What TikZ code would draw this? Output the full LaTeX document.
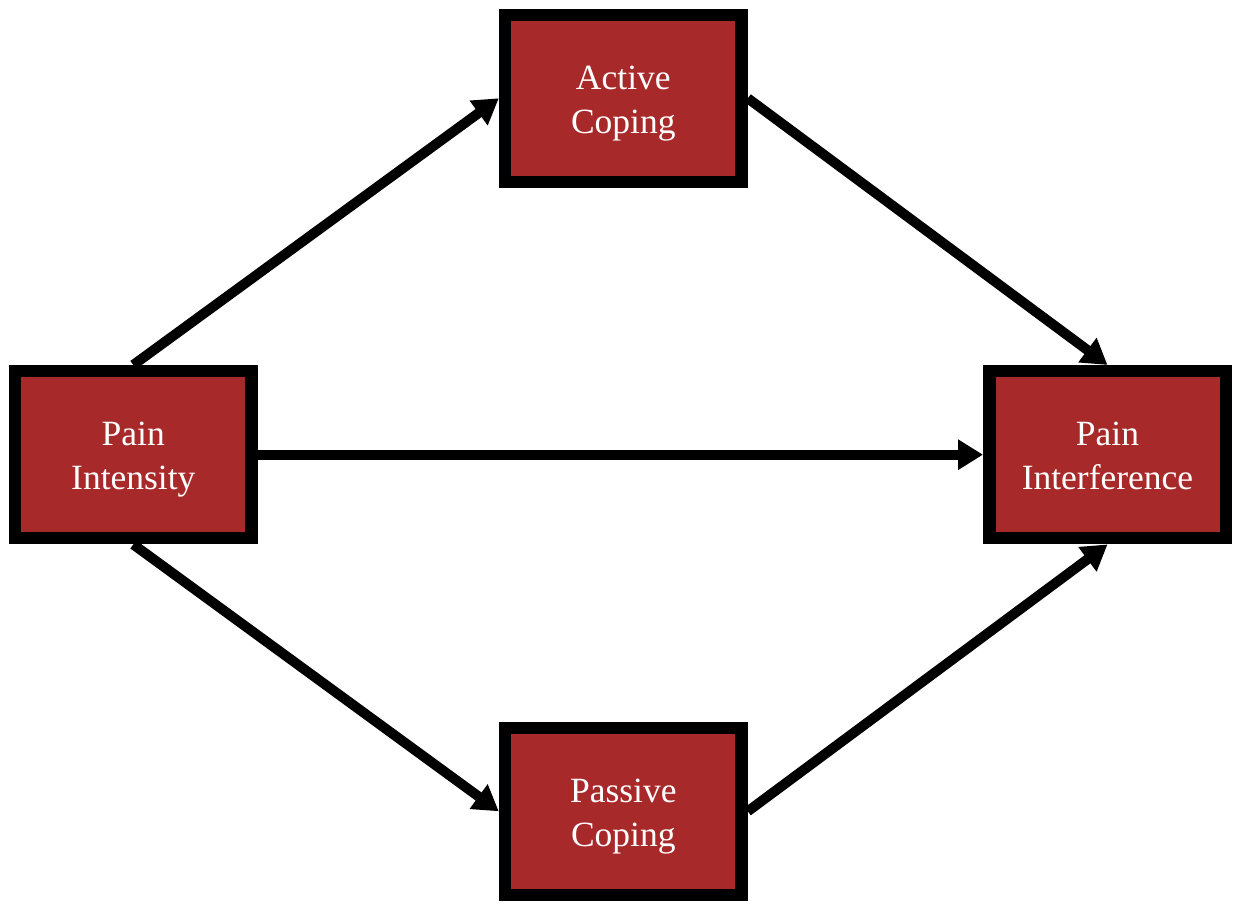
\documentclass[tikz,border=0pt]{standalone}
\usepackage{fontspec}
\setmainfont{Liberation Serif}
\usetikzlibrary{arrows.meta}
\definecolor{boxred}{RGB}{168,41,42}
\begin{document}
\begin{tikzpicture}[x=1pt,y=-1pt,
  varbox/.style={draw=black, fill=boxred, line width=12.5pt,
    minimum width=236.5pt, minimum height=167pt, inner sep=0pt},
  boxtext/.style={text=white, align=center, inner sep=0pt, yshift=-5pt,
    font=\fontsize{35.5pt}{44pt}\selectfont},
  path/.style={line width=10pt, -{Triangle[length=25pt,width=29pt]}}]
  \useasboundingbox (0,0) rectangle (1235,909);
  \node[varbox, label={[boxtext]center:{Active\\Coping}}] (act) at (623.3,98.3) {};
  \node[varbox, label={[boxtext]center:{Pain\\Intensity}}] (int) at (133.3,454.7) {};
  \node[varbox, label={[boxtext,yshift=4pt]center:{Pain\\Interference}}] (inf) at (1107.5,454.7) {};
  \node[varbox, label={[boxtext]center:{Passive\\Coping}}] (pas) at (623.3,811.3) {};
  \draw[path] (int.north) -- (act.west);
  \draw[path] (act.east) -- (inf.north);
  \draw[path] (int.east) -- (inf.west);
  \draw[path] (int.south) -- (pas.west);
  \draw[path] (pas.east) -- (inf.south);
\end{tikzpicture}
\end{document}
